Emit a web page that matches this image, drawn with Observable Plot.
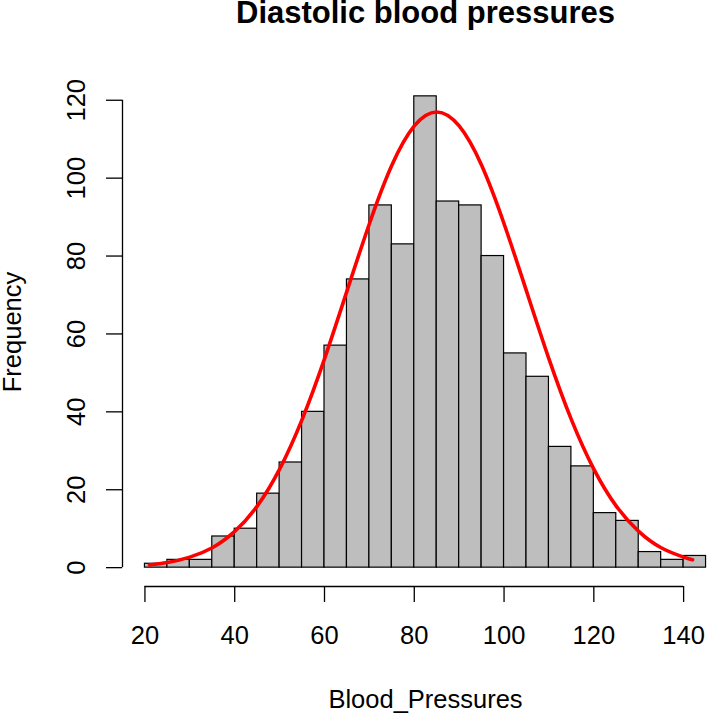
<!DOCTYPE html>
<html>
<head>
<meta charset="utf-8">
<script src="https://cdn.jsdelivr.net/npm/d3@7"></script>
<script src="https://cdn.jsdelivr.net/npm/@observablehq/plot@0.6"></script>
<style>
  html, body { margin: 0; padding: 0; background: #fff; }
  #chart svg { display: block; }
</style>
</head>
<body>
<div id="chart"></div>
<script>
// ---- data ----
const chartTitle = "Diastolic blood pressures";
const xLabel = "Blood_Pressures";
const yLabel = "Frequency";

const breaks = [20, 25, 30, 35, 40, 45, 50, 55, 60, 65, 70, 75, 80, 85, 90, 95, 100, 105, 110, 115, 120, 125, 130, 135, 140, 145];
const counts = [1, 2, 2, 8, 10, 19, 27, 40, 57, 74, 93, 83, 121, 94, 93, 80, 55, 49, 31, 26, 14, 12, 4, 2, 3];

// red fitted curve
const curveX = [21, 25, 30, 35, 40, 45, 50, 55, 60, 65, 70, 75, 80, 85, 90, 95, 100, 105, 110, 115, 120, 125, 130, 135, 140, 142];
const curveY = [0.7, 1.3, 2.7, 5.1, 9.3, 15.8, 25.3, 38.0, 53.6, 71.0, 88.3, 103.3, 113.4, 117.0, 113.4, 103.3, 88.3, 71.0, 53.6, 38.0, 25.3, 15.8, 9.3, 5.1, 2.7, 2.0];

const xTicks = [20, 40, 60, 80, 100, 120, 140];
const yTicks = [0, 20, 40, 60, 80, 100, 120];

// ---- tables built from the arrays ----
const bins = counts.map((n, i) => ({x0: breaks[i], x1: breaks[i + 1], n}));
const curvePts = curveX.map((x, i) => ({x, y: curveY[i]}));

// R-style 4% axis extension
const xr = breaks[breaks.length - 1] - breaks[0];
const xLim = [breaks[0] - 0.04 * xr, breaks[breaks.length - 1] + 0.04 * xr];
const ymax = d3.max(counts);
const yLim = [0 - 0.04 * ymax, ymax + 0.04 * ymax];

const chart = Plot.plot({
  width: 728,
  height: 714,
  marginLeft: 122,
  marginRight: 0,
  marginTop: 77,
  marginBottom: 128,
  style: {
    fontFamily: "'Liberation Sans', Arial, Helvetica, sans-serif",
    fontSize: "25.5px",
    color: "#000",
    background: "#fff"
  },
  x: {domain: xLim},
  y: {domain: yLim},
  marks: [
    Plot.rectY(bins, {x1: "x0", x2: "x1", y: "n", fill: "#BEBEBE", stroke: "#000", strokeWidth: 1.2}),
    Plot.line(curvePts, {x: "x", y: "y", stroke: "#FF0000", strokeWidth: 3.6, curve: "natural"}),
    // axis lines (R style: from first to last tick)
    Plot.ruleY([yLim[0]], {x1: xTicks[0], x2: xTicks[xTicks.length - 1], stroke: "#000", strokeWidth: 1.3}),
    Plot.ruleX([xLim[0]], {y1: yTicks[0], y2: yTicks[yTicks.length - 1], stroke: "#000", strokeWidth: 1.3}),
    Plot.axisX(xTicks, {anchor: "bottom", tickSize: 16, tickPadding: 23, strokeWidth: 1.3, label: null, tickFormat: d => String(d)}),
    Plot.axisY(yTicks, {anchor: "left", tickSize: 16, tickPadding: 22, tickRotate: -90, strokeWidth: 1.3, label: null, tickFormat: d => String(d)}),
    // title and axis titles
    Plot.text([chartTitle], {text: d => d, frameAnchor: "top", dy: -54.6, lineAnchor: "bottom", fontSize: 31, fontWeight: "bold"}),
    Plot.text([xLabel], {text: d => d, frameAnchor: "bottom", dy: 121, lineAnchor: "bottom"}),
    Plot.text([yLabel], {text: d => d, frameAnchor: "left", dx: -101.6, rotate: -90, lineAnchor: "bottom", textAnchor: "middle"})
  ]
});
document.getElementById("chart").appendChild(chart);
</script>
</body>
</html>
